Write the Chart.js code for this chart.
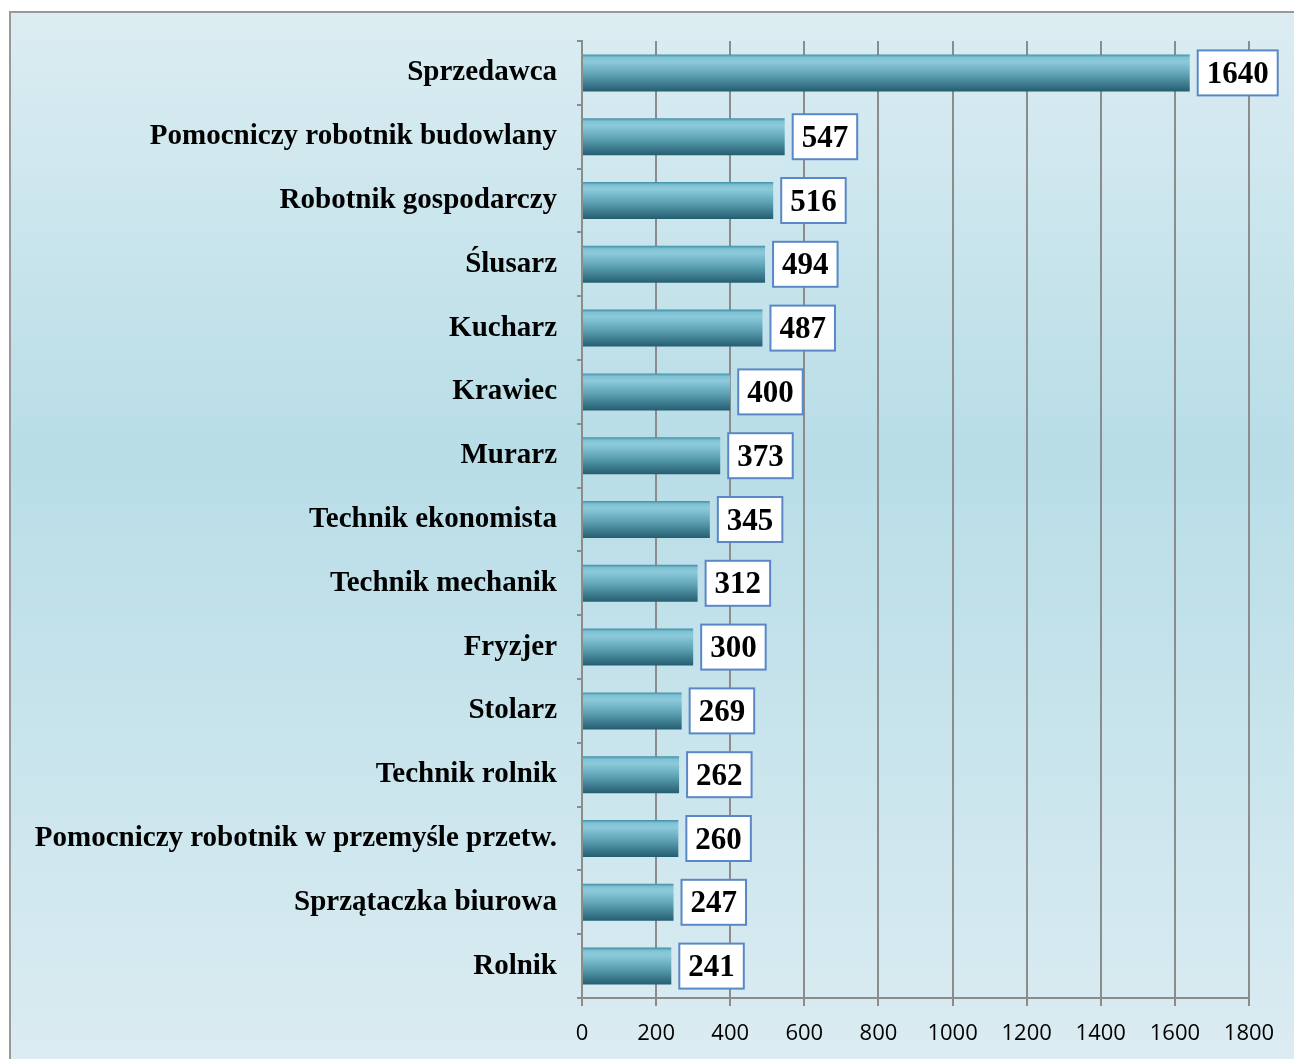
<!DOCTYPE html>
<html>
<head>
<meta charset="utf-8">
<script src="https://cdn.jsdelivr.net/npm/chart.js@4.4.1/dist/chart.umd.min.js"></script>
<style>
  html, body { margin: 0; padding: 0; background: #fff; }
  #wrap { width: 1294px; height: 1059px; position: relative; }
</style>
</head>
<body>
<div id="wrap"><canvas id="jobsChart" width="1294" height="1059"></canvas></div>
<script>
// occupations and counts, top to bottom as in the picture
const categories = [
  'Sprzedawca',
  'Pomocniczy robotnik budowlany',
  'Robotnik gospodarczy',
  'Ślusarz',
  'Kucharz',
  'Krawiec',
  'Murarz',
  'Technik ekonomista',
  'Technik mechanik',
  'Fryzjer',
  'Stolarz',
  'Technik rolnik',
  'Pomocniczy robotnik w przemyśle przetw.',
  'Sprzątaczka biurowa',
  'Rolnik'
];
const values = [1640, 547, 516, 494, 487, 400, 373, 345, 312, 300, 269, 262, 260, 247, 241];
const xMin = 0;
const xMax = 1800;
const xStep = 200;

const GRID = '#8c8c8c';

// frame + light blue gradient behind everything
const backgroundPlugin = {
  id: 'frameBg',
  beforeDraw(chart) {
    const c = chart.ctx;
    const W = chart.width, H = chart.height;
    c.save();
    c.fillStyle = '#ffffff';
    c.fillRect(0, 0, W, H);
    const g = c.createLinearGradient(0, 11, 0, H);
    g.addColorStop(0, '#dcedf2');
    g.addColorStop(0.42, '#b8dde7');
    g.addColorStop(1, '#dbecf2');
    c.fillStyle = g;
    c.fillRect(10, 12, W, H);
    c.strokeStyle = '#999999';
    c.lineWidth = 2;
    c.beginPath();
    c.moveTo(10, H + 5);
    c.lineTo(10, 12);
    c.lineTo(W + 5, 12);
    c.stroke();
    c.restore();
  }
};

// white boxes with the values next to each bar
const valueBoxPlugin = {
  id: 'valueBoxes',
  afterDatasetsDraw(chart) {
    const c = chart.ctx;
    const meta = chart.getDatasetMeta(0);
    c.save();
    c.font = 'bold 31px "Liberation Serif", "DejaVu Serif", serif';
    c.textAlign = 'center';
    c.textBaseline = 'middle';
    meta.data.forEach((bar, i) => {
      const txt = String(values[i]);
      const tw = c.measureText(txt).width;
      const bw = tw + 18;
      const bh = 45;
      const x0 = bar.x + 8;
      const y0 = bar.y - bh / 2;
      c.fillStyle = '#ffffff';
      c.fillRect(x0, y0, bw, bh);
      c.strokeStyle = '#5a88c6';
      c.lineWidth = 2;
      c.strokeRect(x0, y0, bw, bh);
      c.fillStyle = '#000000';
      c.fillText(txt, x0 + bw / 2, bar.y + 2);
    });
    c.restore();
  }
};

// vertical shading of each bar, built from the y scale
const barFill = (ctx) => {
  const chart = ctx.chart;
  if (!chart.chartArea || ctx.dataIndex === undefined) return '#4f97ab';
  const ys = chart.scales.y;
  const yc = ys.getPixelForValue(ctx.dataIndex);
  const half = (ys.getPixelForTick(1) - ys.getPixelForTick(0)) * 0.58 / 2;
  const g = chart.ctx.createLinearGradient(0, yc - half, 0, yc + half);
  g.addColorStop(0, '#3f8ea3');
  g.addColorStop(0.08, '#7fc2d4');
  g.addColorStop(0.2, '#8ccadb');
  g.addColorStop(0.55, '#5ea2b5');
  g.addColorStop(1, '#245d70');
  return g;
};

new Chart(document.getElementById('jobsChart'), {
  type: 'bar',
  data: {
    labels: categories,
    datasets: [{
      data: values,
      backgroundColor: barFill,
      borderWidth: 0,
      categoryPercentage: 1,
      barPercentage: 0.58
    }]
  },
  plugins: [backgroundPlugin, valueBoxPlugin],
  options: {
    indexAxis: 'y',
    responsive: false,
    animation: false,
    layout: { padding: { top: 41, right: 45, bottom: 0, left: 0 } },
    plugins: {
      legend: { display: false },
      tooltip: { enabled: false }
    },
    scales: {
      x: {
        min: xMin,
        max: xMax,
        ticks: {
          stepSize: xStep,
          color: '#000',
          padding: 15,
          callback: (v) => String(v),
          font: { family: '"Open Sans", "Liberation Sans", sans-serif', size: 22 }
        },
        grid: { color: GRID, lineWidth: 2, tickLength: 8 },
        border: { color: GRID, width: 2 },
        afterFit(scale) { scale.height = 61; }
      },
      y: {
        ticks: {
          color: '#000',
          padding: 20,
          font: { family: '"Liberation Serif", "DejaVu Serif", serif', size: 29, weight: 'bold' }
        },
        grid: { drawOnChartArea: false, color: GRID, lineWidth: 2, tickLength: 5, offset: true },
        border: { color: GRID, width: 2 },
        afterFit(scale) { scale.width = 582; }
      }
    }
  }
});
</script>
</body>
</html>
